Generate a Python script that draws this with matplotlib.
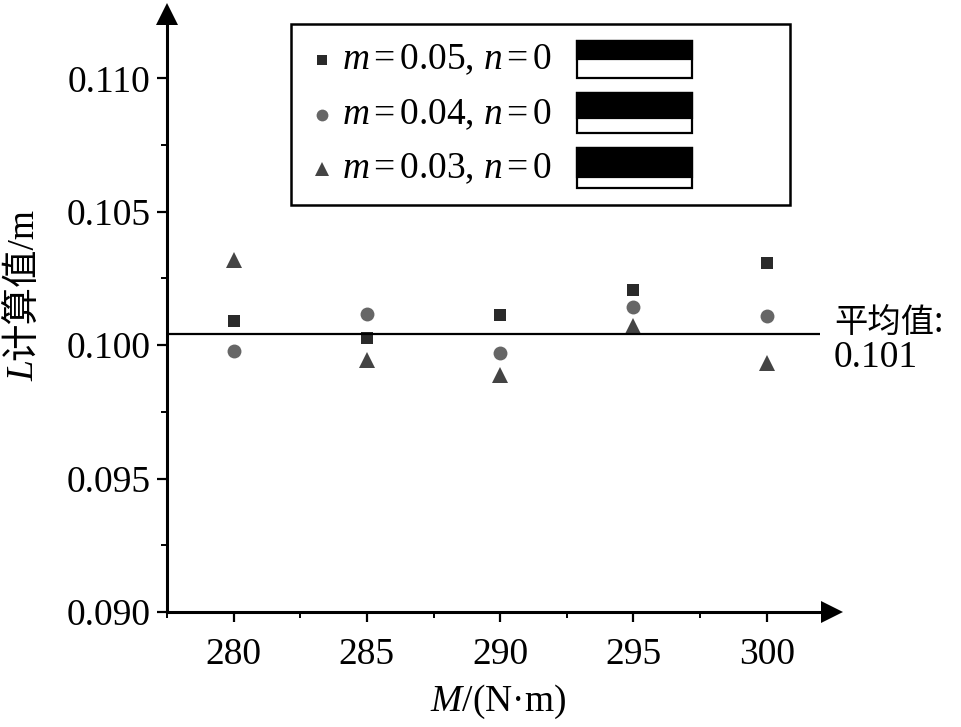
import matplotlib
matplotlib.use("Agg")
import matplotlib.pyplot as plt
from matplotlib.patches import Rectangle
from matplotlib.lines import Line2D
from matplotlib.ticker import MultipleLocator, FormatStrFormatter, FixedLocator
import matplotlib.transforms as mtransforms

plt.rcParams['font.family'] = ['Liberation Serif', 'Noto Sans CJK SC']
plt.rcParams['mathtext.fontset'] = 'custom'
plt.rcParams['mathtext.rm'] = 'Liberation Serif'
plt.rcParams['mathtext.it'] = 'Liberation Serif:italic'

# ---- data ----
M_values = [280, 285, 290, 295, 300]
L_m005 = [0.10089, 0.10027, 0.10113, 0.10207, 0.10307]
L_m004 = [0.09977, 0.10117, 0.09971, 0.10143, 0.10108]
L_m003 = [0.10321, 0.09945, 0.09887, 0.10071, 0.09934]
series_labels = [r'$m\,$=$\,$0.05, $n\,$=$\,$0',
                 r'$m\,$=$\,$0.04, $n\,$=$\,$0',
                 r'$m\,$=$\,$0.03, $n\,$=$\,$0']
mean_value = 0.10043
mean_label = '0.101'
y_ticks = [0.090, 0.095, 0.100, 0.105, 0.110]
x_ticks = [280, 285, 290, 295, 300]

W, H = 961, 727
fig = plt.figure(figsize=(W / 100, H / 100), dpi=100)

def fx(px):
    return px / W

def fy(py):
    return 1 - py / H

FS = 27

ax_l, ax_r, ax_b, ax_t = 167, 820, 612, 25
ax = fig.add_axes([fx(ax_l), fy(ax_b), (ax_r - ax_l) / W, (ax_b - ax_t) / H])
ax.set_xlim(277.5, 302.0)
ax.set_ylim(0.090, 0.1120)

styles = [
    dict(marker='s', color='#2a2a2a', markersize=9.0),
    dict(marker='o', color='#666666', markersize=10.0),
    dict(marker='^', color='#444444', markersize=11.0),
]
for vals, st in zip([L_m005, L_m004, L_m003], styles):
    ax.plot(M_values, vals, linestyle='none', markeredgewidth=0, **st)

ax.axhline(mean_value, color='black', linewidth=1.6)

for s in ['top', 'right']:
    ax.spines[s].set_visible(False)
for s in ['left', 'bottom']:
    ax.spines[s].set_linewidth(2.2)

ax.set_yticks(y_ticks)
ax.yaxis.set_major_formatter(FormatStrFormatter('%.3f'))
ax.yaxis.set_minor_locator(MultipleLocator(0.0025))
ax.set_xticks(x_ticks)
ax.xaxis.set_minor_locator(FixedLocator([277.5, 282.5, 287.5, 292.5, 297.5]))
ax.tick_params(axis='both', which='major', direction='out', length=7, width=1.6,
               labelsize=FS, color='black')
ax.tick_params(axis='both', which='minor', direction='out', length=4, width=1.4)
ax.tick_params(axis='y', which='major', pad=5)
ax.tick_params(axis='x', which='major', pad=11)

# axis arrows
arrow_sz = 16.5
off_y = mtransforms.ScaledTranslation(0, 11.5 / 100, fig.dpi_scale_trans)
ax.plot([0], [1], marker='^', color='black', markersize=arrow_sz, markeredgewidth=0,
        transform=ax.transAxes + off_y, clip_on=False)
off_x = mtransforms.ScaledTranslation(11.5 / 100, 0, fig.dpi_scale_trans)
ax.plot([1], [0], marker='>', color='black', markersize=arrow_sz, markeredgewidth=0,
        transform=ax.transAxes + off_x, clip_on=False)

# axis labels
fig.text(fx(498), fy(702), r'$M$/(N·m)', fontsize=FS, ha='center', va='center')
yl_x, yl_y = fx(24), fy(360)
fig.text(yl_x, yl_y, 'L', fontsize=FS, fontstyle='italic', rotation=90,
         rotation_mode='anchor', ha='right', va='center')
fig.text(yl_x, yl_y, '计算值/m', fontsize=FS, rotation=90,
         rotation_mode='anchor', ha='left', va='center',
         family=['Liberation Serif', 'Noto Sans CJK SC'])

# mean annotation
fig.text(fx(834), fy(322), '平均值:', fontsize=24, family=['Noto Sans CJK SC'],
         ha='left', va='center')
fig.text(fx(834), fy(358), mean_label, fontsize=FS, ha='left', va='center')

# legend (manual)
fig.add_artist(Rectangle((fx(291), fy(205)), fx(790) - fx(291), fy(24) - fy(205),
                         transform=fig.transFigure, fill=False, edgecolor='black',
                         linewidth=1.8))
row_y = [60, 115, 169]
leg_ms = [7.0, 8.5, 10.0]
swatches = [(41, 59, 78), (93, 118, 133), (148, 177, 188)]
for ry, st, ms, lab, (t, m, b) in zip(row_y, styles, leg_ms, series_labels, swatches):
    fig.add_artist(Line2D([fx(322)], [fy(ry)], marker=st['marker'], color=st['color'],
                          markersize=ms, markeredgewidth=0, linestyle='none',
                          transform=fig.transFigure))
    fig.text(fx(342), fy(ry), lab, fontsize=FS, ha='left', va='center')
    fig.add_artist(Rectangle((fx(577), fy(b)), fx(692) - fx(577), fy(t) - fy(b),
                             transform=fig.transFigure, facecolor='white',
                             edgecolor='black', linewidth=1.6))
    fig.add_artist(Rectangle((fx(577), fy(m)), fx(692) - fx(577), fy(t) - fy(m),
                             transform=fig.transFigure, facecolor='black',
                             edgecolor='black', linewidth=1.6))

fig.savefig('out.png', dpi=100)
